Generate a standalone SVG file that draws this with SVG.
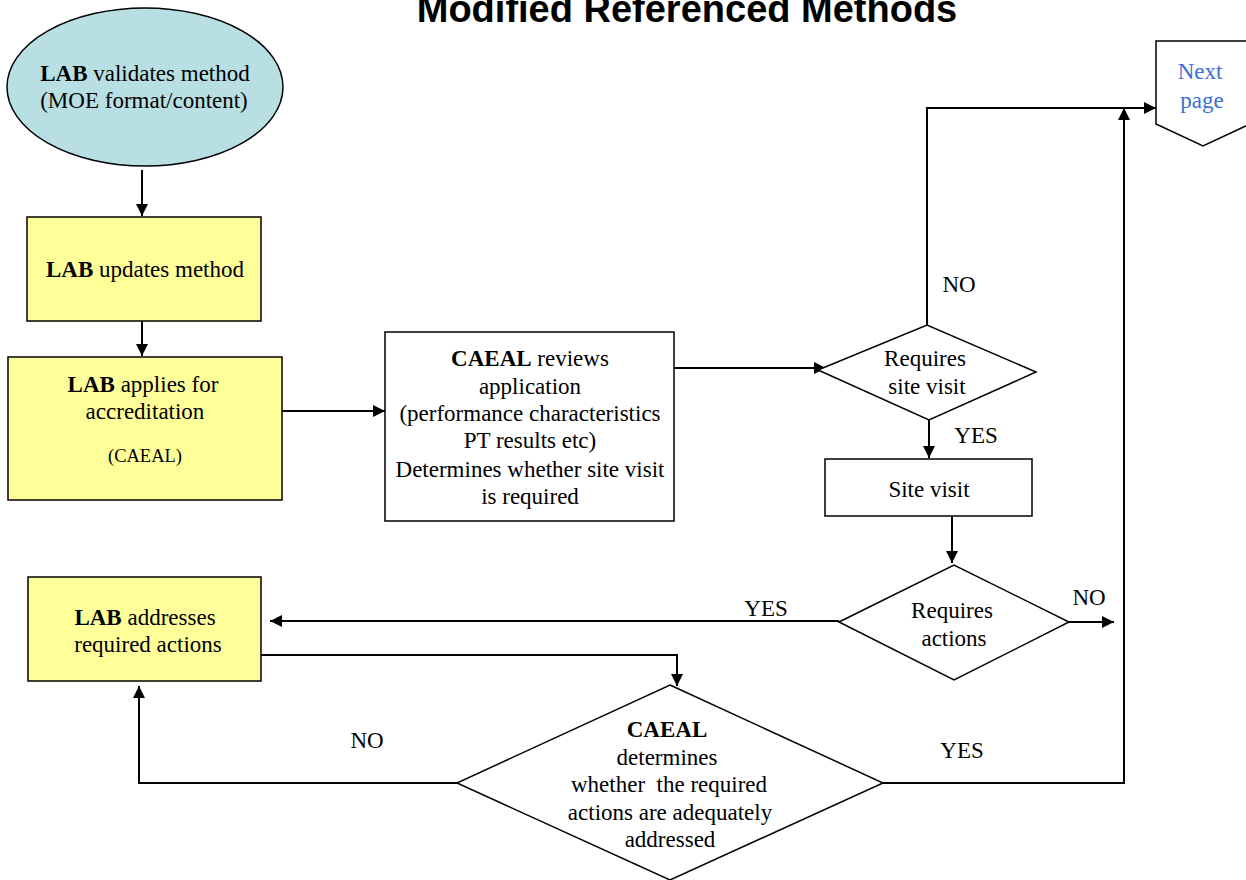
<svg xmlns="http://www.w3.org/2000/svg" width="1246" height="880" viewBox="0 0 1246 880">
<defs>
<marker id="ahL" viewBox="0 0 10 10" refX="10" refY="5" markerWidth="12" markerHeight="12" markerUnits="userSpaceOnUse" orient="auto"><path d="M0,0 L10,5 L0,10 z" fill="#000"/></marker>
<style>
text{font-family:"Liberation Serif","Times New Roman",serif;font-size:23px;fill:#000;text-anchor:middle}
.b{font-weight:bold}
.title{font-family:"Liberation Sans",Arial,sans-serif;font-size:38px;font-weight:bold}
.yel{fill:#FFFF99;stroke:#000;stroke-width:1.5}
.wht{fill:#fff;stroke:#000;stroke-width:1.5}
.con{fill:none;stroke:#000;stroke-width:2;marker-end:url(#ahL)}
.blue{fill:#3B6FD8}
</style>
</defs>
<rect width="1246" height="880" fill="#fff"/>
<text class="title" x="687" y="22">Modified Referenced Methods</text>

<g id="connectors">
<path class="con" d="M142,170 V216"/>
<path class="con" d="M142,321 V356"/>
<path class="con" d="M282,411 H385"/>
<path class="con" d="M674,368 H826"/>
<path class="con" d="M927,325 V108 H1156"/>
<path class="con" d="M929,420 V458"/>
<path class="con" d="M952,516 V563"/>
<path class="con" d="M1069,622 H1114"/>
<path class="con" d="M839,621 H270"/>
<path class="con" d="M258,655 H677 V686"/>
<path class="con" d="M457,783 H139 V686"/>
<path class="con" d="M883,783 H1124 V108"/>
<text x="959" y="292">NO</text>
<text x="976" y="443">YES</text>
<text x="1089" y="605">NO</text>
<text x="766" y="616">YES</text>
<text x="367" y="748">NO</text>
<text x="962" y="758">YES</text>
</g>

<g id="n-validate">
<ellipse cx="145" cy="87" rx="138" ry="79" fill="#B8DFE3" stroke="#000" stroke-width="1.5"/>
<text x="145" y="81"><tspan class="b">LAB</tspan> validates method</text>
<text x="144" y="108">(MOE format/content)</text>
</g>

<g id="n-updates">
<rect class="yel" x="27" y="217" width="234" height="104"/>
<text x="145" y="277"><tspan class="b">LAB</tspan> updates method</text>
</g>

<g id="n-applies">
<rect class="yel" x="8" y="357" width="274" height="143"/>
<text x="143" y="392"><tspan class="b">LAB</tspan> applies for</text>
<text x="145" y="419">accreditation</text>
<text x="145" y="462" style="font-size:18.5px">(CAEAL)</text>
</g>

<g id="n-reviews">
<rect class="wht" x="385" y="332" width="289" height="189"/>
<text x="530" y="366"><tspan class="b">CAEAL</tspan> reviews</text>
<text x="530" y="394">application</text>
<text x="530" y="421">(performance characteristics</text>
<text x="530" y="448">PT results etc)</text>
<text x="530" y="477">Determines whether site visit</text>
<text x="530" y="504">is required</text>
</g>

<g id="n-sitevisit-q">
<polygon class="wht" points="818,370 927,325 1036,372 929,420"/>
<text x="925" y="366">Requires</text>
<text x="927" y="394">site visit</text>
</g>

<g id="n-sitevisit">
<rect class="wht" x="825" y="459" width="207" height="57"/>
<text x="929" y="497">Site visit</text>
</g>

<g id="n-actions-q">
<polygon class="wht" points="839,622 954,565 1069,622 954,680"/>
<text x="952" y="618">Requires</text>
<text x="954" y="646">actions</text>
</g>

<g id="n-addresses">
<rect class="yel" x="28" y="577" width="233" height="104"/>
<text x="145" y="625"><tspan class="b">LAB</tspan> addresses</text>
<text x="148" y="652">required actions</text>
</g>

<g id="n-adequate-q">
<polygon class="wht" points="670,685 883,783 670,880 457,783"/>
<text class="b" x="667" y="737">CAEAL</text>
<text x="667" y="765">determines</text>
<text x="669" y="792" xml:space="preserve">whether  the required</text>
<text x="670" y="820">actions are adequately</text>
<text x="670" y="847">addressed</text>
</g>

<g id="n-nextpage">
<polygon class="wht" points="1156,41 1250,41 1250,124 1203,146 1156,124"/>
<text class="blue" x="1200" y="79">Next</text>
<text class="blue" x="1202" y="108">page</text>
</g>
</svg>
